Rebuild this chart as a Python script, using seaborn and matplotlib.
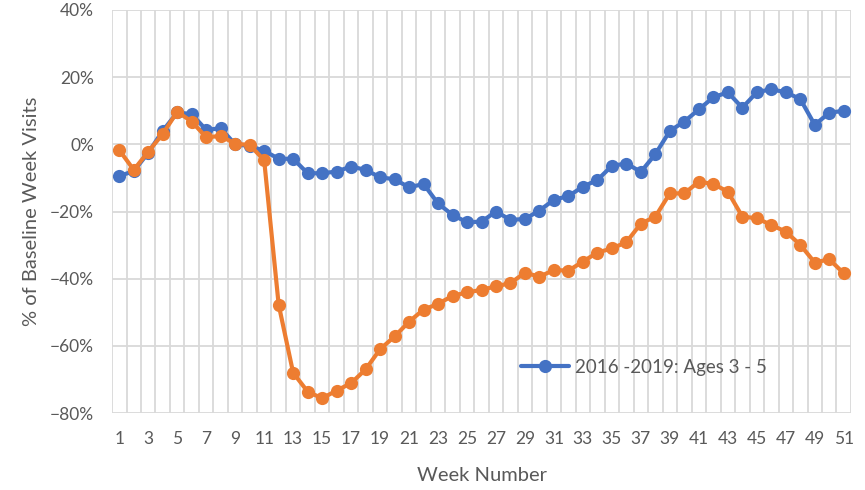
import numpy as np
import pandas as pd
import seaborn as sns
import matplotlib.pyplot as plt
from matplotlib.ticker import PercentFormatter

weeks = list(range(1, 52))

# % of baseline visits
baseline_2016_2019 = [
    -9.4, -8.0, -2.5, 4.0, 9.5, 9.0, 4.3, 4.8, 0.0, -0.5,
    -1.9, -4.3, -4.3, -8.6, -8.6, -8.1, -6.6, -7.6, -9.8, -10.4,
    -12.8, -11.8, -17.6, -21.0, -23.2, -23.0, -20.0, -22.5, -22.2, -19.7,
    -16.5, -15.4, -12.6, -10.6, -6.4, -5.7, -8.2, -2.9, 4.0, 6.8,
    10.4, 14.0, 15.5, 10.9, 15.5, 16.4, 15.5, 13.5, 5.8, 9.4,
    10.0,
]
year_2020 = [
    -1.7, -7.6, -2.2, 3.1, 9.7, 6.8, 2.1, 2.5, 0.2, -0.2,
    -4.7, -47.7, -68.0, -73.6, -75.6, -73.3, -71.1, -67.0, -61.0, -57.2,
    -52.8, -49.2, -47.5, -45.1, -44.1, -43.3, -42.3, -41.3, -38.2, -39.4,
    -37.4, -37.6, -34.9, -32.2, -31.0, -29.1, -23.6, -21.5, -14.6, -14.6,
    -11.1, -11.8, -14.1, -21.5, -22.0, -24.0, -26.0, -29.9, -35.2, -34.2,
    -38.4,
]
series_names = ["2016 -2019: Ages 3 - 5", "2020: Ages 3 - 5"]
x_ticks = list(range(1, 52, 2))

df = pd.DataFrame({
    "week": weeks * 2,
    "pct": baseline_2016_2019 + year_2020,
    "series": [series_names[0]] * len(weeks) + [series_names[1]] * len(weeks),
})

sns.set_style("white")
plt.rcParams["font.family"] = ["Lato", "DejaVu Sans"]

fig = plt.figure(figsize=(8.65, 4.9), dpi=100)
ax = fig.add_axes([0.1295, 0.157, 0.8543, 0.8226])

sns.lineplot(data=df, x="week", y="pct", hue="series",
             palette=["#4472C4", "#ED7D31"], marker="o", markersize=9.5,
             markeredgewidth=0, linewidth=3.0, ax=ax, legend=False)

ax.set_xlim(0.5, 51.5)
ax.set_ylim(-80, 40)
ax.set_yticks(range(-80, 41, 20))
ax.yaxis.set_major_formatter(PercentFormatter(decimals=0))
ax.set_xticks(x_ticks)
ax.set_xticks(np.arange(0.5, 52, 1), minor=True)

grid_c = "#D9D9D9"
ax.grid(axis="y", which="major", color=grid_c, linewidth=1.3)
ax.grid(axis="x", which="minor", color=grid_c, linewidth=1.3)
ax.grid(axis="x", which="major", visible=False)
ax.set_axisbelow(True)
for s in ax.spines.values():
    s.set_visible(False)

txt_c = "#595959"
ax.tick_params(axis="both", which="both", length=0, labelsize=12.5, colors=txt_c)
ax.tick_params(axis="x", pad=13)
ax.tick_params(axis="y", pad=13)
ax.set_xlabel("Week Number", fontsize=14.5, color=txt_c, labelpad=14)
ax.set_ylabel("% of Baseline Week Visits", fontsize=14.5, color=txt_c, labelpad=7)

blue_line = ax.get_lines()[0]
ax.legend([blue_line], [series_names[0]], loc="center left",
          bbox_to_anchor=(0.53, 0.113), frameon=False, fontsize=13.5,
          labelcolor=txt_c, handlelength=2.6, handletextpad=0.3)

fig.savefig("out.png", dpi=100)
